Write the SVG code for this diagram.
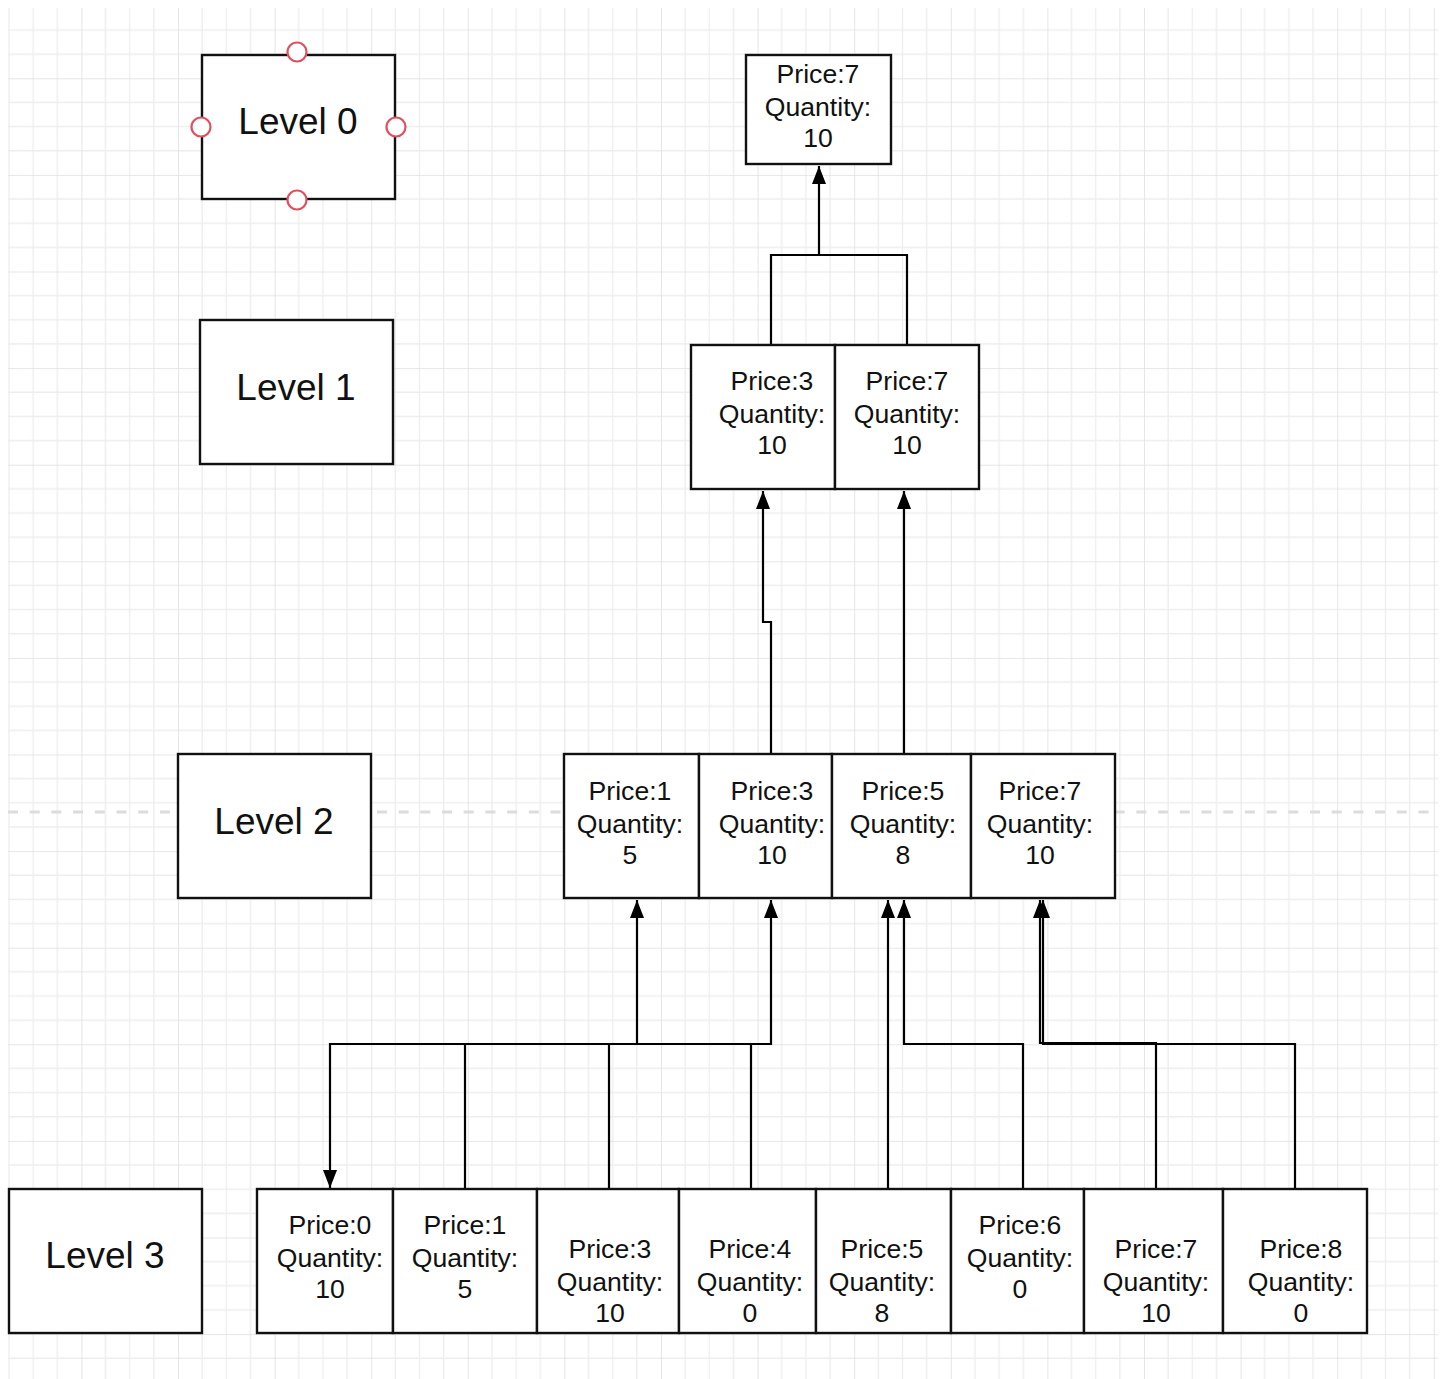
<svg xmlns="http://www.w3.org/2000/svg" width="1443" height="1379" viewBox="0 0 1443 1379">
<defs>
<pattern id="grid" patternUnits="userSpaceOnUse" x="-15.2" y="-18.3" width="96.6" height="96.6">
<path d="M24.15 0V96.6M48.3 0V96.6M72.45 0V96.6M0 24.15H96.6M0 48.3H96.6M0 72.45H96.6" stroke="#eeeeee" stroke-width="1.4" fill="none"/>
<path d="M0 0V96.6M0 0H96.6" stroke="#e0e0e0" stroke-width="1.6" fill="none"/>
</pattern>
<marker id="arr" viewBox="0 0 18 14" refX="18" refY="7" markerWidth="18" markerHeight="14" markerUnits="userSpaceOnUse" orient="auto">
<path d="M0 0L18 7L0 14z" fill="#000"/>
</marker>
</defs>
<style>
.box{fill:#fff;stroke:#111;stroke-width:2.4}
.t{font-family:"Liberation Sans",Arial,sans-serif;font-size:26.6px;fill:#111;text-anchor:middle}
.lv{font-family:"Liberation Sans",Arial,sans-serif;font-size:37px;fill:#111;text-anchor:middle}
.c{fill:none;stroke:#000;stroke-width:2.2}
.a{marker-end:url(#arr)}
.h{fill:#fff;stroke:#e0505f;stroke-width:2.2}
</style>
<rect x="0" y="0" width="1443" height="1379" fill="#fff"/>
<rect x="8" y="8" width="1430" height="1371" fill="url(#grid)"/>
<line x1="8" y1="812" x2="1438" y2="812" stroke="#dcdcdc" stroke-width="3" stroke-dasharray="10 11.7"/>

<g id="connectors">
<path class="c a" d="M819 255V166"/>
<path class="c" d="M771 345V255H907V345"/>
<path class="c a" d="M771 754V622H763V491"/>
<path class="c a" d="M904 754V491"/>
<path class="c a" d="M465 1189V1044H637V900"/>
<path class="c a" d="M609 1189V1044H771V900"/>
<path class="c a" d="M751 1189V1044H330V1188"/>
<path class="c a" d="M888 1189V900"/>
<path class="c a" d="M1023 1189V1044H904V900"/>
<path class="c a" d="M1156 1189V1043H1040V900"/>
<path class="c a" d="M1295 1189V1044H1043V900"/>
</g>

<g id="level0">
<rect class="box" x="202" y="55" width="193" height="144"/>
<text class="lv" x="298" y="134">Level 0</text>
<circle class="h" cx="297" cy="52" r="9.5"/>
<circle class="h" cx="297" cy="200" r="9.5"/>
<circle class="h" cx="201" cy="127" r="9.5"/>
<circle class="h" cx="396" cy="127" r="9.5"/>
</g>
<g id="level1"><rect class="box" x="200" y="320" width="193" height="144"/><text class="lv" x="296" y="400">Level 1</text></g>
<g id="level2"><rect class="box" x="178" y="754" width="193" height="144"/><text class="lv" x="274" y="834">Level 2</text></g>
<g id="level3"><rect class="box" x="9" y="1189" width="193" height="144"/><text class="lv" x="105" y="1268">Level 3</text></g>

<g id="root"><rect class="box" x="746" y="55" width="145" height="109"/><text class="t"><tspan x="818" y="83">Price:7</tspan><tspan x="818" y="116">Quantity:</tspan><tspan x="818" y="147">10</tspan></text></g>

<g id="l1a"><rect class="box" x="691" y="345" width="144" height="144"/><text class="t"><tspan x="772" y="390">Price:3</tspan><tspan x="772" y="423">Quantity:</tspan><tspan x="772" y="454">10</tspan></text></g>
<g id="l1b"><rect class="box" x="835" y="345" width="144" height="144"/><text class="t"><tspan x="907" y="390">Price:7</tspan><tspan x="907" y="423">Quantity:</tspan><tspan x="907" y="454">10</tspan></text></g>

<g id="l2a"><rect class="box" x="564" y="754" width="135" height="144"/><text class="t"><tspan x="630" y="800">Price:1</tspan><tspan x="630" y="833">Quantity:</tspan><tspan x="630" y="864">5</tspan></text></g>
<g id="l2b"><rect class="box" x="699" y="754" width="133" height="144"/><text class="t"><tspan x="772" y="800">Price:3</tspan><tspan x="772" y="833">Quantity:</tspan><tspan x="772" y="864">10</tspan></text></g>
<g id="l2c"><rect class="box" x="832" y="754" width="139" height="144"/><text class="t"><tspan x="903" y="800">Price:5</tspan><tspan x="903" y="833">Quantity:</tspan><tspan x="903" y="864">8</tspan></text></g>
<g id="l2d"><rect class="box" x="971" y="754" width="144" height="144"/><text class="t"><tspan x="1040" y="800">Price:7</tspan><tspan x="1040" y="833">Quantity:</tspan><tspan x="1040" y="864">10</tspan></text></g>

<g id="l3a"><rect class="box" x="257" y="1189" width="136" height="144"/><text class="t"><tspan x="330" y="1234">Price:0</tspan><tspan x="330" y="1267">Quantity:</tspan><tspan x="330" y="1298">10</tspan></text></g>
<g id="l3b"><rect class="box" x="393" y="1189" width="144" height="144"/><text class="t"><tspan x="465" y="1234">Price:1</tspan><tspan x="465" y="1267">Quantity:</tspan><tspan x="465" y="1298">5</tspan></text></g>
<g id="l3c"><rect class="box" x="537" y="1189" width="142" height="144"/><text class="t"><tspan x="610" y="1258">Price:3</tspan><tspan x="610" y="1291">Quantity:</tspan><tspan x="610" y="1322">10</tspan></text></g>
<g id="l3d"><rect class="box" x="679" y="1189" width="137" height="144"/><text class="t"><tspan x="750" y="1258">Price:4</tspan><tspan x="750" y="1291">Quantity:</tspan><tspan x="750" y="1322">0</tspan></text></g>
<g id="l3e"><rect class="box" x="816" y="1189" width="135" height="144"/><text class="t"><tspan x="882" y="1258">Price:5</tspan><tspan x="882" y="1291">Quantity:</tspan><tspan x="882" y="1322">8</tspan></text></g>
<g id="l3f"><rect class="box" x="951" y="1189" width="133" height="144"/><text class="t"><tspan x="1020" y="1234">Price:6</tspan><tspan x="1020" y="1267">Quantity:</tspan><tspan x="1020" y="1298">0</tspan></text></g>
<g id="l3g"><rect class="box" x="1084" y="1189" width="139" height="144"/><text class="t"><tspan x="1156" y="1258">Price:7</tspan><tspan x="1156" y="1291">Quantity:</tspan><tspan x="1156" y="1322">10</tspan></text></g>
<g id="l3h"><rect class="box" x="1223" y="1189" width="144" height="144"/><text class="t"><tspan x="1301" y="1258">Price:8</tspan><tspan x="1301" y="1291">Quantity:</tspan><tspan x="1301" y="1322">0</tspan></text></g>
</svg>
